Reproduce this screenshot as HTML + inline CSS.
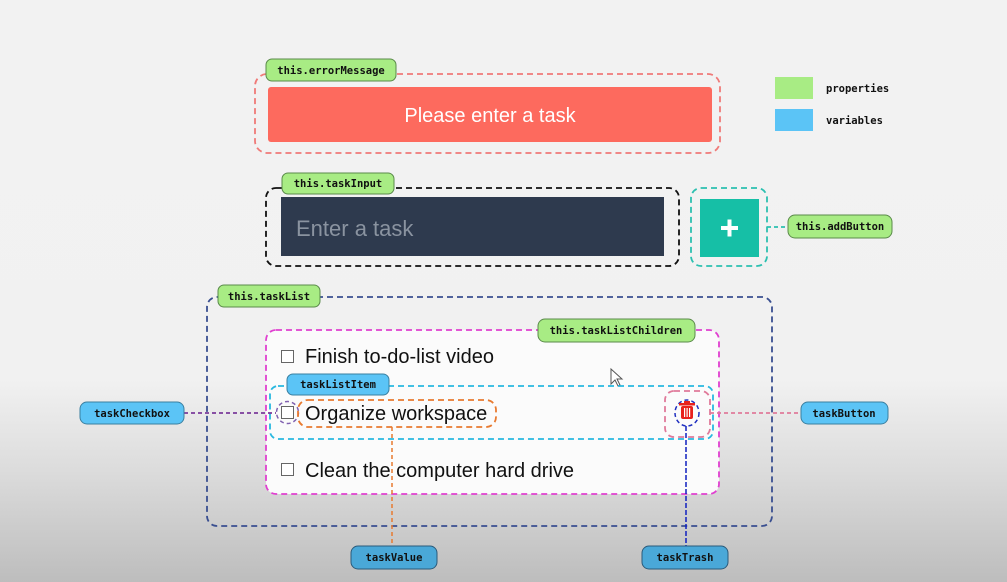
<!DOCTYPE html>
<html><head><meta charset="utf-8"><style>
html,body{margin:0;padding:0;}
body{width:1007px;height:582px;overflow:hidden;background:linear-gradient(#f2f2f2 0px,#f1f1f1 380px,#dcdcdc 470px,#bdbdbd 582px);}
svg{display:block}
.m{font-family:"DejaVu Sans Mono","Liberation Mono",monospace;font-size:10.5px;font-weight:bold;fill:#111;}
.s{font-family:"Liberation Sans",sans-serif;}
</style></head><body>
<svg width="1007" height="582" viewBox="0 0 1007 582" xmlns="http://www.w3.org/2000/svg">
<rect x="255" y="74" width="465" height="79" rx="12" fill="none" stroke="#f07a78" stroke-width="1.8" stroke-dasharray="6,4"/>
<rect x="268" y="87" width="444" height="55" rx="3" fill="#fd6a5e"/>
<text x="490" y="122" class="s" font-size="20" fill="#fff" text-anchor="middle">Please enter a task</text>
<rect x="266" y="59" width="130" height="22" rx="6" fill="#a8ec84" stroke="#5a8a4a"/>
<text x="331" y="74" class="m" text-anchor="middle">this.errorMessage</text>
<rect x="775" y="77" width="38" height="22" fill="#a8ec84"/>
<rect x="775" y="109" width="38" height="22" fill="#5bc4f6"/>
<text x="826" y="92" class="m">properties</text>
<text x="826" y="124" class="m">variables</text>
<rect x="266" y="188" width="413" height="78" rx="10" fill="none" stroke="#111" stroke-width="1.8" stroke-dasharray="6,4"/>
<rect x="281" y="197" width="383" height="59" fill="#2e3a4e"/>
<text x="296" y="236" class="s" font-size="22" fill="#8a93a0">Enter a task</text>
<rect x="282" y="173" width="112" height="21" rx="6" fill="#a8ec84" stroke="#5a8a4a"/>
<text x="338" y="187" class="m" text-anchor="middle">this.taskInput</text>
<rect x="691" y="188" width="76" height="78" rx="10" fill="none" stroke="#2cc0b0" stroke-width="1.8" stroke-dasharray="6,4"/>
<rect x="700" y="199" width="59" height="58" fill="#16bfa6"/>
<rect x="721" y="226" width="17" height="4" fill="#fff"/>
<rect x="727.5" y="219.5" width="4" height="17" fill="#fff"/>
<line x1="767" y1="227" x2="788" y2="227" stroke="#2cc0b0" stroke-width="1.8" stroke-dasharray="4,3"/>
<rect x="788" y="215" width="104" height="23" rx="7" fill="#a8ec84" stroke="#5a8a4a"/>
<text x="840" y="230" class="m" text-anchor="middle">this.addButton</text>
<rect x="207" y="297" width="565" height="229" rx="10" fill="none" stroke="#3a4f90" stroke-width="1.8" stroke-dasharray="6,4"/>
<rect x="218" y="285" width="102" height="22" rx="6" fill="#a8ec84" stroke="#5a8a4a"/>
<text x="269" y="300" class="m" text-anchor="middle">this.taskList</text>
<rect x="266" y="330" width="453" height="164" rx="10" fill="#fbfbfb" stroke="#e040d0" stroke-width="1.8" stroke-dasharray="6,4"/>
<rect x="538" y="319" width="157" height="23" rx="7" fill="#a8ec84" stroke="#5a8a4a"/>
<text x="616" y="334" class="m" text-anchor="middle">this.taskListChildren</text>
<rect x="281.5" y="350.5" width="12" height="12" fill="#fff" stroke="#666"/>
<text x="305" y="363" class="s" font-size="20" fill="#111">Finish to-do-list video</text>
<path d="M611 369 L611 384 L615 380 L618 386 L620 385 L617 379 L622 379 Z" fill="#fff" stroke="#555"/>
<rect x="270" y="386" width="443" height="53" rx="8" fill="none" stroke="#28b8e0" stroke-width="1.8" stroke-dasharray="6,4"/>
<rect x="287" y="374" width="102" height="21" rx="6" fill="#5bc4f6" stroke="#3a7fa0"/>
<text x="338" y="388" class="m" text-anchor="middle">taskListItem</text>
<rect x="281.5" y="406.5" width="12" height="12" fill="#fff" stroke="#666"/>
<circle cx="287.5" cy="412.5" r="11" fill="none" stroke="#8060b0" stroke-width="1.5" stroke-dasharray="4,3"/>
<line x1="184" y1="413" x2="276" y2="413" stroke="#7a3a9a" stroke-width="1.8" stroke-dasharray="4,3"/>
<rect x="80" y="402" width="104" height="22" rx="7" fill="#5bc4f6" stroke="#3a7fa0"/>
<text x="132" y="417" class="m" text-anchor="middle">taskCheckbox</text>
<rect x="298" y="400" width="198" height="27" rx="10" fill="none" stroke="#e87a30" stroke-width="1.8" stroke-dasharray="6,4"/>
<text x="305" y="420" class="s" font-size="20" fill="#111">Organize workspace</text>
<line x1="392" y1="427" x2="392" y2="546" stroke="#e87a30" stroke-width="1.5" stroke-dasharray="4,3"/>
<rect x="351" y="546" width="86" height="23" rx="7" fill="#4aa8d8" stroke="#2a5a7a"/>
<text x="394" y="561" class="m" text-anchor="middle">taskValue</text>
<rect x="665" y="391" width="45" height="46" rx="9" fill="none" stroke="#e07a9a" stroke-width="1.8" stroke-dasharray="6,4"/>
<ellipse cx="687" cy="413" rx="12" ry="13" fill="none" stroke="#2030c0" stroke-width="1.5" stroke-dasharray="4,3"/>
<rect x="681" y="406" width="12" height="13" rx="2" fill="#e8201c"/>
<rect x="679" y="403" width="16" height="2.5" fill="#e8201c"/>
<rect x="684" y="401" width="6" height="2" fill="#e8201c"/>
<rect x="684" y="408" width="1.2" height="9" fill="#fff"/><rect x="686.5" y="408" width="1.2" height="9" fill="#fff"/><rect x="689" y="408" width="1.2" height="9" fill="#fff"/>
<line x1="710" y1="413" x2="801" y2="413" stroke="#e07a9a" stroke-width="1.8" stroke-dasharray="4,3"/>
<rect x="801" y="402" width="87" height="22" rx="7" fill="#5bc4f6" stroke="#3a7fa0"/>
<text x="844" y="417" class="m" text-anchor="middle">taskButton</text>
<line x1="686" y1="426" x2="686" y2="546" stroke="#1020c0" stroke-width="1.5" stroke-dasharray="5,2"/>
<rect x="642" y="546" width="86" height="23" rx="7" fill="#4aa8d8" stroke="#2a5a7a"/>
<text x="685" y="561" class="m" text-anchor="middle">taskTrash</text>
<rect x="281.5" y="463.5" width="12" height="12" fill="#fff" stroke="#666"/>
<text x="305" y="477" class="s" font-size="20" fill="#111">Clean the computer hard drive</text>
</svg>
</body></html>
